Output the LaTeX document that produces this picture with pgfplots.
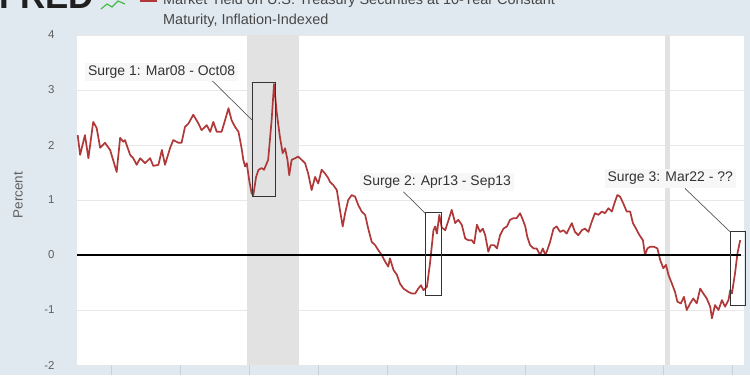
\documentclass[border=0pt]{standalone}
\usepackage{fontspec}
\setmainfont{Liberation Sans}
\usepackage{pgfplots}
\pgfplotsset{compat=1.18}
\definecolor{bg}{RGB}{225,233,240}
\definecolor{rec}{RGB}{226,226,226}
\definecolor{series}{RGB}{176,56,56}
\definecolor{lbl}{RGB}{95,95,95}
\definecolor{annot}{RGB}{51,51,51}
\definecolor{tickc}{RGB}{200,210,220}
\begin{document}
\begin{tikzpicture}[x=1bp,y=1bp]
\fill[bg] (0,0) rectangle (750,375);
% header (cut at the top, as in the reference)
\node[anchor=base west, inner sep=0, font=\fontsize{35}{40}\selectfont\bfseries, text=black!88] at (-1,367) {FRED};
\draw[green!45!gray, line width=1.2bp] (101,366) -- (107,371) -- (112,368) -- (118,374) -- (125,371);
\fill[series] (140,372.5) rectangle (157,377);
\node[anchor=base west, inner sep=0, font=\fontsize{14.5}{17}\selectfont, text=black!72] at (163,370.5) {Market Yield on U.S. Treasury Securities at 10-Year Constant};
\node[anchor=base west, inner sep=0, font=\fontsize{14.5}{17}\selectfont, text=black!72] at (163,351) {Maturity, Inflation-Indexed};
\node[rotate=90, font=\fontsize{13.5}{15}\selectfont, text=lbl] at (18,180) {Percent};
\begin{axis}[
  at={(77bp,10bp)}, anchor=south west,
  scale only axis, width=667bp, height=330bp,
  xmin=2003, xmax=2022.33, ymin=-2, ymax=4,
  clip=false,
  axis line style={draw=none},
  axis background/.style={fill=white},
  ytick={-2,-1,0,1,2,3,4},
  xtick={2004,2006,...,2022},
  xticklabels={},
  xtick pos=bottom, ytick pos=left,
  ymajorgrids, grid style={draw=black!9, line width=0.8bp},
  tick align=outside, major tick length=10bp,
  xtick style={draw=tickc, line width=0.8bp},
  ytick style={draw=none},
  yticklabel style={font=\fontsize{11.5}{13}\selectfont, text=lbl, xshift=-9bp},
  /pgf/number format/assume math mode=true,
]
% recession bands
\addplot[fill=rec, draw=none] coordinates {(2007.92,-2) (2009.42,-2) (2009.42,4) (2007.92,4)} -- cycle;
\addplot[fill=rec, draw=none] coordinates {(2020.03,-2) (2020.19,-2) (2020.19,4) (2020.03,4)} -- cycle;
% series
\addplot[series, line width=1.7bp, line join=round] coordinates {
(2003.02,2.18) (2003.09,1.82) (2003.23,2.18) (2003.33,1.76) (2003.47,2.42)
(2003.57,2.31) (2003.67,1.95) (2003.81,2.04) (2003.96,1.91) (2004.15,1.51)
(2004.25,2.13) (2004.34,2.06) (2004.39,2.09) (2004.54,1.82) (2004.63,1.76)
(2004.73,1.64) (2004.83,1.76) (2004.97,1.67) (2005.12,1.76) (2005.21,1.62)
(2005.36,1.64) (2005.46,1.91) (2005.55,1.64) (2005.70,1.95) (2005.79,2.09)
(2005.94,2.04) (2006.03,2.04) (2006.13,2.33) (2006.23,2.39) (2006.37,2.55)
(2006.52,2.39) (2006.61,2.27) (2006.71,2.33) (2006.76,2.36) (2006.86,2.24)
(2006.95,2.42) (2007.05,2.24) (2007.19,2.24) (2007.29,2.45) (2007.39,2.67)
(2007.48,2.45) (2007.58,2.33) (2007.68,2.24) (2007.77,1.94) (2007.82,1.73)
(2007.87,1.61) (2007.92,1.67) (2007.99,1.36) (2008.06,1.12) (2008.11,1.09)
(2008.19,1.42) (2008.26,1.55) (2008.35,1.58) (2008.42,1.55) (2008.50,1.67)
(2008.54,1.73) (2008.64,2.45) (2008.71,3.11) (2008.79,2.58) (2008.88,2.15)
(2008.96,1.85) (2009.03,1.94) (2009.10,1.73) (2009.15,1.45) (2009.22,1.73)
(2009.32,1.76) (2009.41,1.79) (2009.51,1.73) (2009.61,1.67) (2009.70,1.48)
(2009.80,1.18) (2009.90,1.42) (2009.99,1.30) (2010.09,1.55) (2010.19,1.48)
(2010.28,1.40) (2010.33,1.33) (2010.43,1.27) (2010.53,1.18) (2010.62,0.82)
(2010.70,0.52) (2010.77,0.76) (2010.86,1.00) (2010.96,1.09) (2011.06,1.06)
(2011.15,0.91) (2011.25,0.79) (2011.35,0.73) (2011.44,0.48) (2011.54,0.24)
(2011.64,0.18) (2011.73,0.09) (2011.83,0.00) (2011.93,-0.12) (2012.02,-0.21)
(2012.07,-0.06) (2012.17,-0.27) (2012.27,-0.36) (2012.36,-0.52) (2012.46,-0.61)
(2012.60,-0.67) (2012.70,-0.70) (2012.80,-0.70) (2012.89,-0.61) (2012.97,-0.55)
(2013.04,-0.64) (2013.14,-0.58) (2013.23,-0.15) (2013.33,0.45) (2013.38,0.52)
(2013.43,0.39) (2013.50,0.73) (2013.57,0.50) (2013.67,0.45) (2013.76,0.62)
(2013.86,0.82) (2013.96,0.58) (2014.05,0.64) (2014.15,0.55) (2014.25,0.30)
(2014.34,0.27) (2014.44,0.27) (2014.51,0.21) (2014.59,0.55) (2014.68,0.42)
(2014.76,0.48) (2014.83,0.36) (2014.92,0.06) (2014.99,0.18) (2015.09,0.18)
(2015.17,0.12) (2015.26,0.36) (2015.36,0.48) (2015.46,0.52) (2015.55,0.64)
(2015.65,0.67) (2015.74,0.67) (2015.84,0.76) (2015.92,0.64) (2015.99,0.52)
(2016.05,0.33) (2016.13,0.18) (2016.23,0.12) (2016.32,0.12) (2016.42,0.00)
(2016.50,0.12) (2016.57,0.00) (2016.63,0.09) (2016.71,0.24) (2016.81,0.48)
(2016.90,0.52) (2017.00,0.42) (2017.10,0.45) (2017.19,0.39) (2017.34,0.58)
(2017.43,0.42) (2017.53,0.36) (2017.63,0.45) (2017.72,0.48) (2017.82,0.42)
(2017.92,0.61) (2018.01,0.76) (2018.11,0.73) (2018.21,0.79) (2018.30,0.76)
(2018.40,0.85) (2018.50,0.79) (2018.59,0.97) (2018.66,1.09) (2018.74,1.06)
(2018.83,0.94) (2018.93,0.79) (2019.03,0.79) (2019.11,0.58) (2019.20,0.48)
(2019.30,0.36) (2019.40,0.27) (2019.46,0.00) (2019.53,0.12) (2019.61,0.15)
(2019.72,0.15) (2019.82,0.12) (2019.90,-0.09) (2019.99,-0.24) (2020.07,-0.18)
(2020.14,-0.36) (2020.24,-0.52) (2020.33,-0.67) (2020.40,-0.85) (2020.50,-0.88)
(2020.59,-0.76) (2020.67,-1.00) (2020.77,-0.88) (2020.86,-0.79) (2020.96,-0.88)
(2021.06,-0.61) (2021.15,-0.70) (2021.25,-0.79) (2021.35,-0.94) (2021.40,-1.15)
(2021.49,-0.91) (2021.59,-1.00) (2021.69,-0.82) (2021.78,-0.94) (2021.88,-0.82)
(2021.93,-0.64) (2021.98,-0.70) (2022.07,-0.33) (2022.14,0.03) (2022.22,0.27)
};
% zero line
\addplot[black, line width=2bp] coordinates {(2003,0) (2022.25,0)};
% surge boxes
\addplot[black!80, line width=0.9bp] coordinates {(2008.08,1.06) (2008.74,1.06) (2008.74,3.13) (2008.08,3.13)} -- cycle;
\addplot[black!80, line width=0.9bp] coordinates {(2013.11,-0.73) (2013.55,-0.73) (2013.55,0.77) (2013.11,0.77)} -- cycle;
\addplot[black!80, line width=0.9bp] coordinates {(2021.95,-0.91) (2022.38,-0.91) (2022.38,0.42) (2021.95,0.42)} -- cycle;
% connectors
\addplot[black!65, line width=0.7bp] coordinates {(2006.90,3.18) (2008.08,2.45)};
\addplot[black!65, line width=0.7bp] coordinates {(2012.46,1.15) (2013.09,0.76)};
\addplot[black!65, line width=0.7bp] coordinates {(2020.62,1.21) (2021.93,0.42)};
% labels
\node[fill=black!3, text=annot, font=\fontsize{14}{16}\selectfont, inner sep=3bp] at (axis cs:2005.45,3.33) {Surge 1: Mar08 - Oct08};
\node[fill=black!3, text=annot, font=\fontsize{14}{16}\selectfont, inner sep=3bp] at (axis cs:2013.43,1.33) {Surge 2: Apr13 - Sep13};
\node[fill=black!3, text=annot, font=\fontsize{14}{16}\selectfont, inner sep=3bp] at (axis cs:2020.19,1.39) {Surge 3: Mar22 - ??};
\end{axis}
\pgfresetboundingbox
\path[use as bounding box] (0,0) rectangle (750,375);
\end{tikzpicture}
\end{document}
